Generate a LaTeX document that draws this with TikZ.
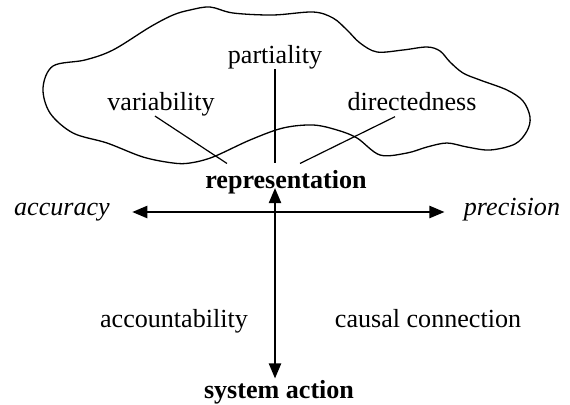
\documentclass[tikz,border=0pt]{standalone}
\usepackage{fontspec}
\setmainfont{Liberation Serif}
\usepackage{tikz}
\usetikzlibrary{arrows.meta, calc}

\begin{document}
\begin{tikzpicture}[
  x=0.46pt, y=-0.46pt,
  word/.style   = {inner sep=0pt, anchor=base, font=\fontsize{12}{14}\selectfont},
  bword/.style  = {word, font=\fontsize{12}{14}\selectfont\bfseries},
  iword/.style  = {word, font=\fontsize{12}{14}\selectfont\itshape},
  cloud/.style  = {line width=0.6pt},
  link/.style   = {line width=0.55pt},
  biarr/.style  = {{Triangle[length=7pt,width=5.6pt]}-{Triangle[length=7pt,width=5.6pt]},
                   line width=1pt}
]
\useasboundingbox (0,0) rectangle (570,404);

%% ---- cloud ----
\draw[cloud] plot[smooth cycle, tension=0.55] coordinates {
  (43,88) (53,66) (85,60) (113,50) (150,27) (173,15) (190,10) (210,7)
  (233,13) (273,15) (313,12) (333,18) (347,30) (360,43) (377,52)
  (403,50) (427,47) (440,51) (450,62) (463,73) (480,80) (507,90)
  (523,101) (530,117) (527,131) (515,144) (490,150) (467,147)
  (447,143) (427,147) (407,153) (380,155) (357,138) (337,130)
  (313,125) (283,128) (250,140) (213,157) (190,163) (173,163)
  (143,157) (107,143) (73,133) (50,113)};

%% ---- properties ----
\node[word] (partiality)   at (275,63)  {partiality};
\node[word] (variability)  at (161,110) {variability};
\node[word] (directedness) at (412,110) {directedness};
\node[bword] (repr)        at (286,188) {representation};

\coordinate (rtop) at ($(repr.north)+(0,-6)$);
\draw[line width=0.8pt] (partiality.south) -- (partiality.south |- rtop);
\draw[link] ($(variability.south)+(-6,0)$) -- ($(rtop)+(-59,0)$);
\draw[link] ($(directedness.south)+(-17,6)$) -- ($(rtop)+(14,0)$);

%% ---- axes ----
\node[iword] (accuracy)  at (62,215)  {accuracy};
\node[iword] (precision) at (512,215) {precision};
\node[bword] (sysaction) at (279,398) {system action};

\draw[biarr] ($(accuracy.base east)+(22,-3)$) -- ($(precision.base west)+(-19,-3)$);
\draw[biarr] (partiality.south |- repr.base) -- ($(partiality.south |- sysaction.north)+(0,-1)$);

\node[word] (account) at (174,327) {accountability};
\node[word] (causal)  at (428,327) {causal connection};

\end{tikzpicture}
\end{document}
